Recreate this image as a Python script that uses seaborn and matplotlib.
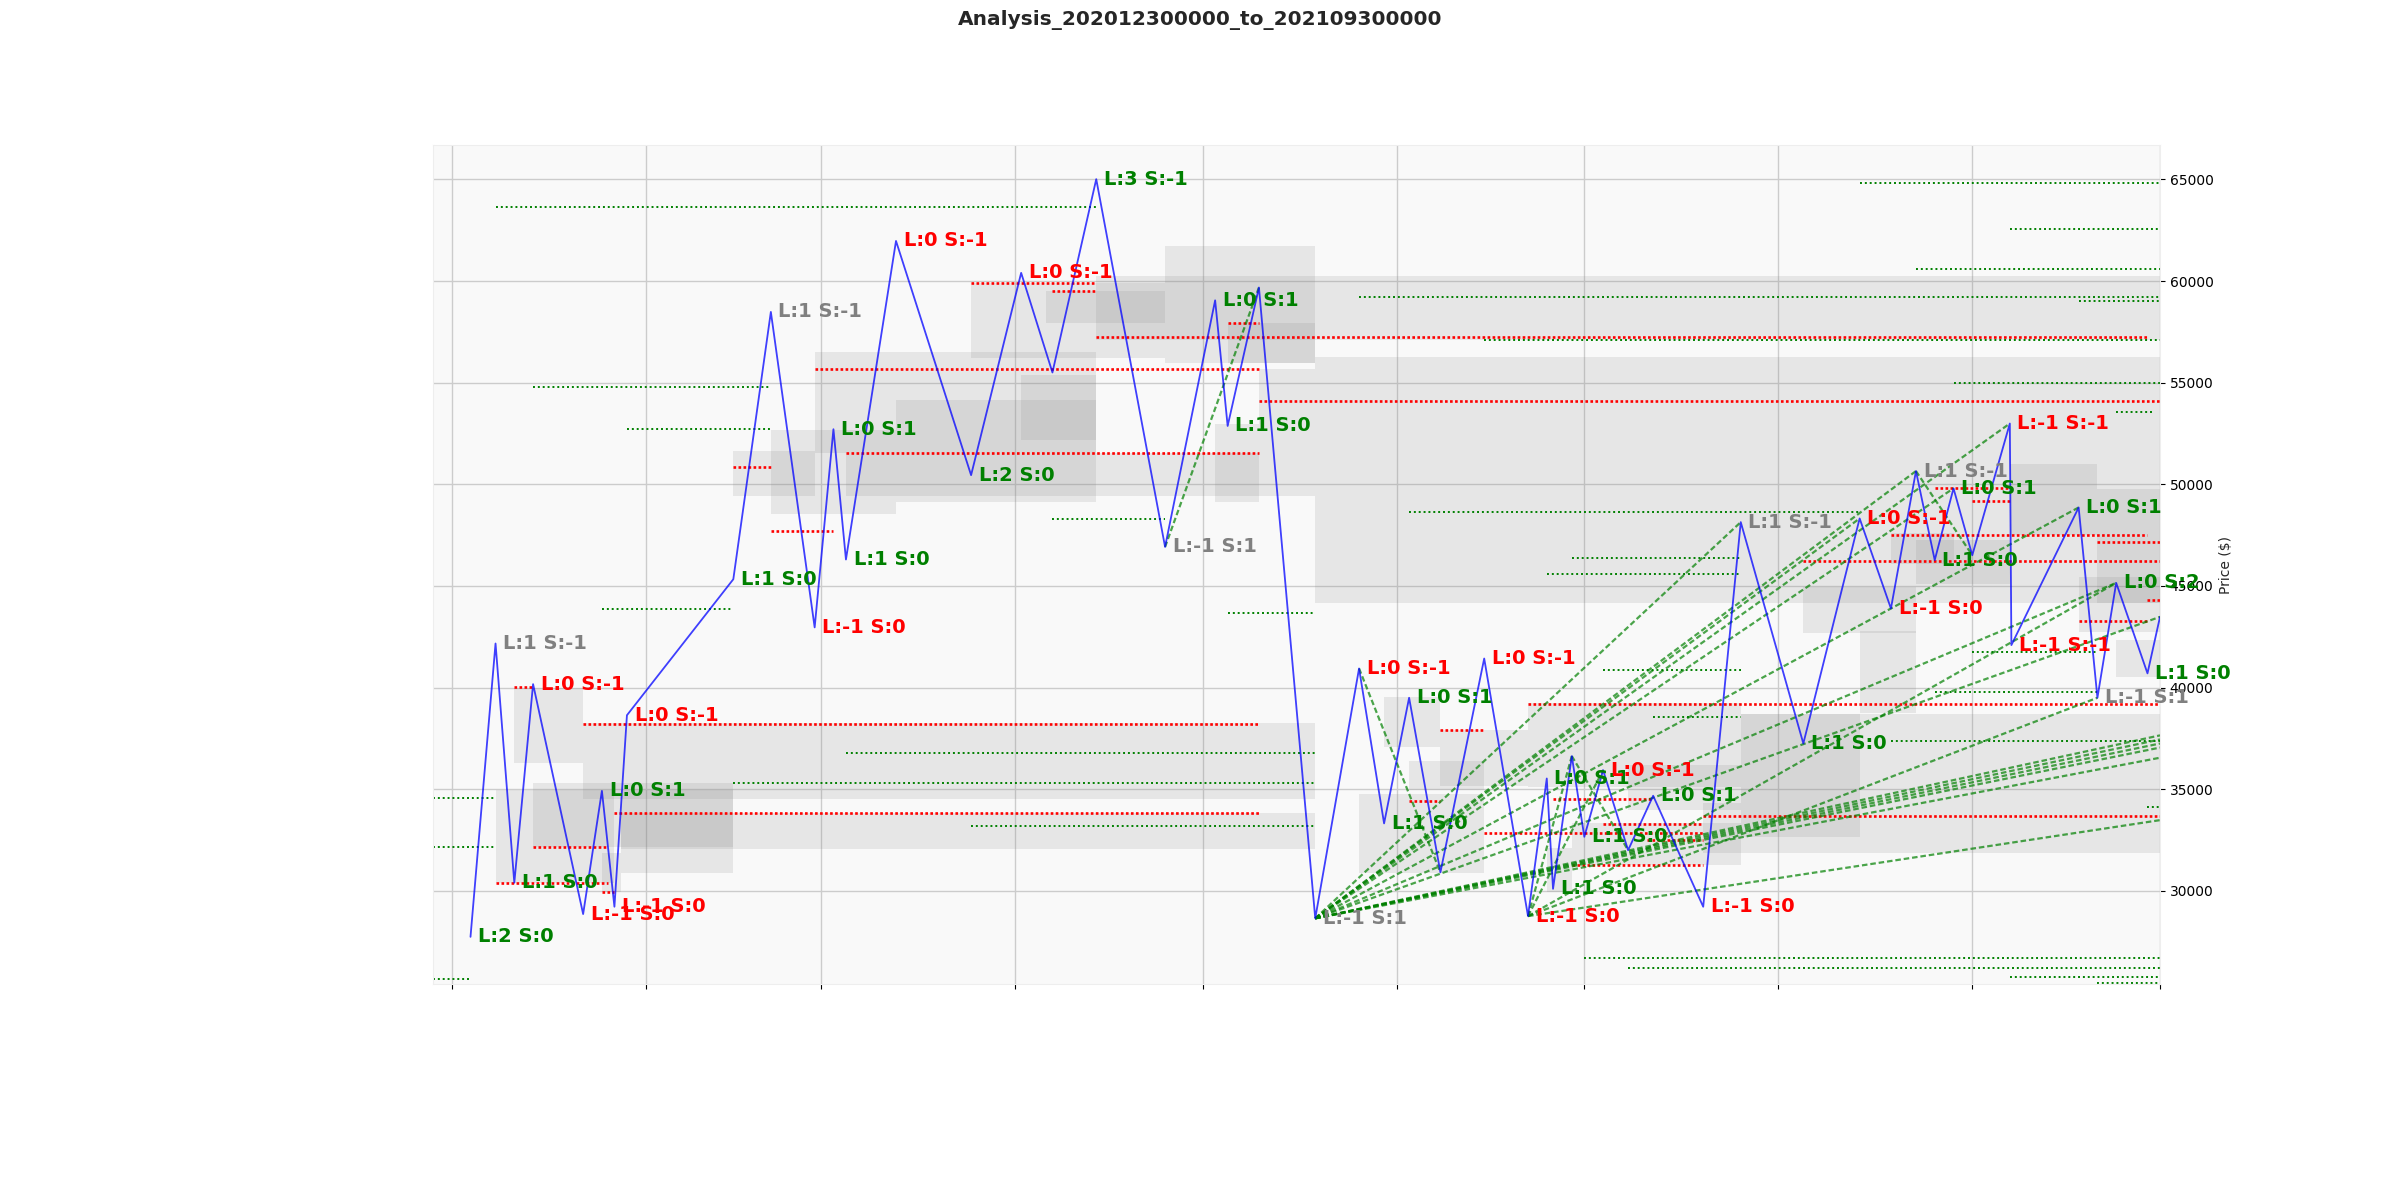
import pandas as pd
import numpy as np
import seaborn as sns
import matplotlib.pyplot as plt
import matplotlib.dates as mdates
from matplotlib.ticker import NullFormatter, MultipleLocator

# =====================================================================
# Дані: точки розвороту ціни та мітки L/S
# =====================================================================
pivot_dates = ['2021-01-04', '2021-01-08', '2021-01-11', '2021-01-14', '2021-01-22',
               '2021-01-25', '2021-01-27', '2021-01-29', '2021-02-15', '2021-02-21',
               '2021-02-28', '2021-03-03', '2021-03-05', '2021-03-13', '2021-03-25',
               '2021-04-02', '2021-04-07', '2021-04-14', '2021-04-25', '2021-05-03',
               '2021-05-05', '2021-05-10', '2021-05-19', '2021-05-26', '2021-05-30',
               '2021-06-03', '2021-06-08', '2021-06-15', '2021-06-22', '2021-06-25',
               '2021-06-26', '2021-06-29', '2021-07-01', '2021-07-04', '2021-07-08',
               '2021-07-12', '2021-07-20', '2021-07-26', '2021-08-05', '2021-08-14',
               '2021-08-19', '2021-08-23', '2021-08-26', '2021-08-29', '2021-09-01',
               '2021-09-07 00:00', '2021-09-07 06:00', '2021-09-18', '2021-09-21', '2021-09-24',
               '2021-09-29', '2021-10-01']
pivot_prices = [27740, 42170, 30400, 40170, 28860,
                34920, 29220, 38640, 45330, 58480,
                42960, 52710, 46300, 61970, 50450,
                60400, 55500, 65010, 46920, 59050,
                52870, 59680, 28650, 40940, 33320,
                39500, 30910, 41430, 28760, 35530,
                30100, 36630, 32660, 35940, 32000,
                34680, 29220, 48140, 37250, 48320,
                43890, 50650, 46270, 49800, 46510,
                52990, 42090, 48860, 39500, 45150,
                40700, 43480]
pivot_L = [2, 1, 1, 0, -1, 0, -1, 0, 1, 1, -1, 0, 1, 0, 2, 0, None, 3, -1, 0,
           1, None, -1, 0, 1, 0, None, 0, -1, 0, 1, None, 1, 0, None, 0, -1, 1, 1, 0,
           -1, 1, 1, 0, None, -1, -1, 0, -1, 0, 1, None]
pivot_S = [0, -1, 0, -1, 0, 1, 0, -1, 0, -1, 0, 1, 0, -1, 0, -1, None, -1, 1, 1,
           0, None, 1, -1, 0, 1, None, -1, 0, 1, 0, None, 0, -1, None, 1, 0, -1, 0, -1,
           0, -1, 0, 1, None, -1, -1, 1, 1, 2, 0, None]

# Сірі зони (початок, кінець, нижня та верхня межа)
box_start = ['2021-01-11', '2021-01-08', '2021-01-14', '2021-01-28', '2021-01-25',
             '2021-01-22', '2021-01-28', '2021-02-15', '2021-02-21', '2021-02-28',
             '2021-03-13', '2021-03-25', '2021-04-06', '2021-04-02', '2021-03-05',
             '2021-04-25', '2021-05-05', '2021-05-10', '2021-05-03', '2021-04-14',
             '2021-05-19', '2021-09-07', '2021-09-21', '2021-09-18', '2021-09-24',
             '2021-08-19', '2021-08-23', '2021-08-05', '2021-08-14', '2021-07-26',
             '2021-07-26', '2021-06-08', '2021-05-26', '2021-05-30', '2021-06-03',
             '2021-06-22', '2021-07-08', '2021-06-29', '2021-06-25', '2021-07-20']
box_end = ['2021-01-22', '2021-01-27', '2021-02-15', '2021-02-15', '2021-01-28',
           '2021-05-19', '2021-05-19', '2021-02-28', '2021-03-13', '2021-04-14',
           '2021-04-14', '2021-04-25', '2021-04-25', '2021-04-14', '2021-05-19',
           '2021-05-19', '2021-05-19', '2021-05-19', '2021-05-10', '2021-10-01',
           '2021-10-01', '2021-09-21', '2021-10-01', '2021-10-01', '2021-10-01',
           '2021-08-29', '2021-09-07', '2021-08-23', '2021-08-23', '2021-08-14',
           '2021-10-01', '2021-06-22', '2021-06-15', '2021-06-08', '2021-06-15',
           '2021-07-26', '2021-07-26', '2021-07-26', '2021-06-29', '2021-07-26']
box_low = [36270, 30370, 32170, 30890, 29930, 34500, 32040, 49440, 48540, 51530,
           49110, 56190, 57940, 52200, 49430, 55960, 55960, 51530, 49110, 57090,
           44140, 47500, 44140, 42740, 40530, 46100, 45120, 42710, 38730, 32630,
           31840, 35170, 30860, 37090, 34960, 35120, 34000, 31270, 29960, 31860]
box_high = [39960, 34940, 35290, 34960, 31840, 38240, 33810, 51650, 52680, 56530,
            54140, 59910, 59500, 55400, 51550, 61710, 57940, 55650, 52990, 60230,
            56270, 51000, 49750, 45450, 42330, 47580, 47250, 44960, 42800, 38690,
            38690, 37910, 34750, 39520, 36380, 39220, 36190, 33320, 32100, 34320]

# Зелені пунктирні рівні
green_start = ['2021-01-08', '2021-01-14', '2021-01-29', '2021-01-25', '2020-12-29',
               '2020-12-29', '2020-12-29', '2021-03-05', '2021-02-15', '2021-03-25',
               '2021-04-07', '2021-05-05', '2021-05-26', '2021-08-14', '2021-09-07',
               '2021-08-23', '2021-09-18', '2021-06-15', '2021-08-29', '2021-09-24',
               '2021-06-03', '2021-06-25', '2021-06-29', '2021-07-04', '2021-07-12',
               '2021-08-19', '2021-08-26', '2021-09-01', '2021-09-29', '2021-07-01',
               '2021-07-08', '2021-09-07', '2021-09-21']
green_end = ['2021-04-14', '2021-02-21', '2021-02-21', '2021-02-15', '2021-01-08',
             '2021-01-08', '2021-01-04', '2021-05-19', '2021-05-19', '2021-05-19',
             '2021-04-25', '2021-05-19', '2021-10-01', '2021-10-01', '2021-10-01',
             '2021-10-01', '2021-10-01', '2021-10-01', '2021-10-01', '2021-09-30',
             '2021-08-14', '2021-07-26', '2021-07-26', '2021-07-26', '2021-07-26',
             '2021-10-01', '2021-09-21', '2021-09-21', '2021-10-01', '2021-10-01',
             '2021-10-01', '2021-10-01', '2021-10-01']
green_price = [63640, 54790, 52730, 43860, 34580, 32140, 25650, 36790, 35290, 33200,
               48270, 43650, 59220, 64840, 62560, 60600, 59020, 57120, 54990, 53560,
               48650, 45610, 46380, 40890, 38560, 37370, 39790, 41730, 34110, 26710,
               26220, 25780, 25480]

# Червоні пунктирні рівні
red_start = ['2021-01-11', '2021-01-22', '2021-01-27', '2021-01-14', '2021-01-08',
             '2021-01-25', '2021-02-15', '2021-02-21', '2021-02-28', '2021-03-05',
             '2021-03-25', '2021-04-07', '2021-04-14', '2021-05-05', '2021-05-10',
             '2021-06-08', '2021-06-22', '2021-06-03', '2021-06-15', '2021-06-26',
             '2021-07-04', '2021-06-29', '2021-07-20', '2021-08-19', '2021-08-26',
             '2021-09-01', '2021-08-05', '2021-09-21', '2021-09-18', '2021-09-29',
             '2021-07-11']
red_end = ['2021-01-14', '2021-05-10', '2021-05-10', '2021-01-26', '2021-01-26',
           '2021-01-27', '2021-02-21', '2021-03-03', '2021-05-10', '2021-05-10',
           '2021-04-14', '2021-04-14', '2021-09-29', '2021-05-10', '2021-10-01',
           '2021-06-15', '2021-10-01', '2021-06-08', '2021-07-20', '2021-07-12',
           '2021-07-20', '2021-07-20', '2021-10-01', '2021-09-29', '2021-09-07',
           '2021-09-07', '2021-10-01', '2021-10-01', '2021-09-29', '2021-10-01',
           '2021-07-20']
red_price = [40040, 38190, 33840, 32170, 30370, 29960, 50860, 47710, 55660, 51550,
             59910, 59500, 57230, 57940, 54100, 37910, 39170, 34430, 32860, 34510,
             33270, 31270, 33690, 47500, 49820, 49180, 46220, 47170, 43280, 44300,
             32500]

# Трендові лінії (зелений штрих)
trend_start_date = ['2021-04-25'] + ['2021-05-19'] * 13 + ['2021-05-26', '2021-06-22',
                    '2021-06-22', '2021-06-22', '2021-06-29', '2021-08-23',
                    '2021-06-22', '2021-06-22']
trend_start_price = [46920] + [28650] * 13 + [40940, 28760, 28760, 28760, 36630, 50650,
                     28760, 28760]
trend_end_date = ['2021-05-10', '2021-07-26', '2021-08-14', '2021-08-23', '2021-08-29',
                  '2021-09-07', '2021-09-18', '2021-09-24', '2021-10-01', '2021-10-01',
                  '2021-10-01', '2021-10-01', '2021-10-01', '2021-10-01', '2021-06-08',
                  '2021-06-29', '2021-07-04', '2021-10-01', '2021-07-08', '2021-09-01',
                  '2021-09-21', '2021-09-24']
trend_end_price = [59680, 48140, 48320, 50650, 49800, 52990, 48860, 45150, 43480, 37650,
                   37450, 37250, 37050, 36550, 30910, 36630, 35940, 33480, 32000, 46510,
                   39500, 45150]

# =====================================================================
# Побудова графіка
# =====================================================================
sns.set_style("whitegrid")
plt.rcParams['font.family'] = ['DejaVu Sans']

fig = plt.figure(figsize=(24, 12), dpi=100)
ax = fig.add_axes([0.1804, 0.18, 0.7196, 0.699])
ax.set_facecolor('#f9f9f9')

for s, e, lo, hi in zip(box_start, box_end, box_low, box_high):
    ax.fill_between(pd.to_datetime([s, e]), lo, hi, color='gray', alpha=0.15,
                    linewidth=0, zorder=1)

# Рівні підтримки/опору
ax.hlines(green_price, pd.to_datetime(green_start), pd.to_datetime(green_end),
          colors='green', linestyles=(0, (1, 1.5)), linewidth=1.4, zorder=2)
ax.hlines(red_price, pd.to_datetime(red_start), pd.to_datetime(red_end),
          colors='red', linestyles=(0, (1, 0.9)), linewidth=1.9, zorder=2)

for sd, sp, ed, ep in zip(trend_start_date, trend_start_price, trend_end_date, trend_end_price):
    ax.plot(pd.to_datetime([sd, ed]), [sp, ep], color='green', linestyle=(0, (2.5, 1.3)),
            linewidth=1.6, alpha=0.7, zorder=3)

df = pd.DataFrame({'date': pd.to_datetime(pivot_dates, format='mixed'), 'price': pivot_prices})
sns.lineplot(data=df, x='date', y='price', sort=False, estimator=None, color='blue',
             alpha=0.75, linewidth=1.3, ax=ax, zorder=4)

for d, p, l, s in zip(df['date'], pivot_prices, pivot_L, pivot_S):
    if l is None:
        continue
    total = l + s
    col = 'green' if total > 0 else ('red' if total < 0 else 'gray')
    ax.annotate(f"L:{l} S:{s}", (d, p), xytext=(5.5, 0), textcoords='offset points',
                color=col, fontsize=14, fontweight='bold', ha='left', va='center', zorder=5)

ax.set_xlim(pd.Timestamp('2020-12-29'), pd.Timestamp('2021-10-01'))
ax.set_ylim(25420, 66680)
ax.xaxis.set_major_locator(mdates.MonthLocator())
ax.xaxis.set_major_formatter(NullFormatter())
ax.yaxis.set_major_locator(MultipleLocator(5000))
ax.yaxis.tick_right()
ax.yaxis.set_label_position('right')
ax.set_xlabel('')
ax.set_ylabel('Price ($)', fontsize=10)
ax.tick_params(axis='both', length=3.5, width=0.8, color='black', labelsize=10,
               labelcolor='black', bottom=True, right=True, left=False)
ax.grid(True, color='#cccccc', linewidth=1)
for sp in ax.spines.values():
    sp.set_color('#eeeeee')

fig.suptitle('Analysis_202012300000_to_202109300000', fontsize=14.5, fontweight='bold', y=0.992)

fig.savefig('out.png', dpi=100)
